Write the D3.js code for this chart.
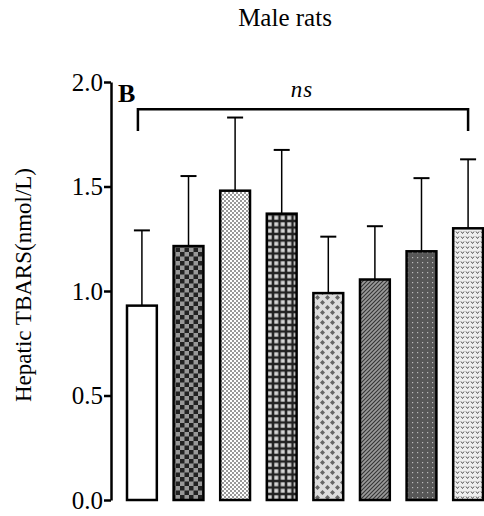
<!DOCTYPE html>
<html lang="en">
<head>
<meta charset="UTF-8">
<title>Male rats</title>
<script src="https://cdn.jsdelivr.net/npm/d3@7"></script>
<style>
    body { margin: 0; padding: 0; background: #fff; }
    svg { display: block; font-family: "Liberation Serif", "DejaVu Serif", serif; }
</style>
</head>
<body>
<div id="chart"></div>
<script>
    // data
    const groups = ["G1", "G2", "G3", "G4", "G5", "G6", "G7", "G8"];
    const means = [0.93, 1.215, 1.48, 1.37, 0.99, 1.055, 1.19, 1.30];
    const errors = [0.36, 0.335, 0.35, 0.305, 0.27, 0.255, 0.35, 0.33];
    const yTicks = [0.0, 0.5, 1.0, 1.5, 2.0];
    const patterns = ["none", "bigcheck", "finecheck", "grid", "diamond", "stripe", "dots", "hearts"];

    const w = 484, h = 516;
    const margin = { top: 82, left: 111, bottom: 16, right: 1 };

    const svg = d3.select("#chart").append("svg")
        .attr("width", w).attr("height", h);

    const defs = svg.append("defs");

    // fill patterns
    function pat(id, size) {
        return defs.append("pattern").attr("id", id)
            .attr("patternUnits", "userSpaceOnUse")
            .attr("width", size).attr("height", size);
    }
    let p = pat("bigcheck", 9);
    p.append("rect").attr("width", 9).attr("height", 9).attr("fill", "#999");
    p.append("rect").attr("width", 4.5).attr("height", 4.5).attr("fill", "#222");
    p.append("rect").attr("x", 4.5).attr("y", 4.5).attr("width", 4.5).attr("height", 4.5).attr("fill", "#222");

    p = pat("finecheck", 4);
    p.append("rect").attr("width", 4).attr("height", 4).attr("fill", "#fff");
    p.append("rect").attr("width", 2).attr("height", 2).attr("fill", "#999");
    p.append("rect").attr("x", 2).attr("y", 2).attr("width", 2).attr("height", 2).attr("fill", "#999");

    p = pat("grid", 6.5);
    p.append("rect").attr("width", 6.5).attr("height", 6.5).attr("fill", "#222");
    p.append("rect").attr("x", 1.25).attr("y", 1.25).attr("width", 4).attr("height", 4).attr("fill", "#d4d4d4");

    p = pat("diamond", 10);
    p.append("rect").attr("width", 10).attr("height", 10).attr("fill", "#ddd");
    p.append("path").attr("d", "M2.5,0 L5,2.5 L2.5,5 L0,2.5Z M7.5,5 L10,7.5 L7.5,10 L5,7.5Z").attr("fill", "#666");

    p = pat("stripe", 4);
    p.append("rect").attr("width", 4).attr("height", 4).attr("fill", "#9a9a9a");
    p.append("path").attr("d", "M-1,5 L5,-1 M-1,1 L1,-1 M3,5 L5,3").attr("stroke", "#333").attr("stroke-width", 1.1);

    p = pat("dots", 5);
    p.append("rect").attr("width", 5).attr("height", 5).attr("fill", "#575757");
    p.append("rect").attr("x", 2).attr("y", 2).attr("width", 1.2).attr("height", 1.2).attr("fill", "#bbb");

    p = pat("hearts", 5);
    p.append("rect").attr("width", 5).attr("height", 5).attr("fill", "#eee");
    p.append("path").attr("d", "M1,1.5 L2.5,3.5 L4,1.5").attr("stroke", "#555").attr("stroke-width", 1).attr("fill", "none");

    const x = d3.scaleBand()
        .domain(groups)
        .range([margin.left + 16, w - margin.right])
        .paddingInner(0.36)
        .paddingOuter(0);

    const y = d3.scaleLinear()
        .domain([0, 2])
        .range([h - margin.bottom, margin.top]);

    // title
    svg.append("text")
        .attr("x", 285).attr("y", 26)
        .attr("text-anchor", "middle")
        .style("font-size", "25px")
        .text("Male rats");

    // y axis
    const yAxis = svg.append("g")
        .attr("transform", `translate(${margin.left}, 0)`)
        .call(d3.axisLeft(y).tickValues(yTicks).tickFormat(d3.format(".1f")).tickSize(7).tickSizeOuter(0));
    yAxis.attr("font-family", null);
    yAxis.select(".domain").attr("stroke", "#000").attr("stroke-width", 2.5);
    yAxis.selectAll(".tick line").attr("stroke", "#000").attr("stroke-width", 2.5);
    yAxis.selectAll(".tick text")
        .attr("x", -8)
        .style("font-family", "'Liberation Serif', serif")
        .style("font-size", "25px")
        .attr("fill", "#000");

    svg.append("text")
        .attr("transform", `translate(31, ${y(1) - 6}) rotate(-90)`)
        .attr("text-anchor", "middle")
        .style("font-size", "23px")
        .text("Hepatic TBARS(nmol/L)");

    // panel letter
    svg.append("text")
        .attr("x", 118).attr("y", 102)
        .style("font-size", "26px")
        .style("font-weight", "bold")
        .text("B");

    // error bars (upper only)
    const err = svg.append("g").attr("stroke", "#000").attr("stroke-width", 1.5);
    err.selectAll("line.v")
        .data(groups)
        .enter().append("line")
        .attr("class", "v")
        .attr("x1", d => x(d) + x.bandwidth() / 2)
        .attr("x2", d => x(d) + x.bandwidth() / 2)
        .attr("y1", (d, i) => y(means[i]))
        .attr("y2", (d, i) => y(means[i] + errors[i]));
    err.selectAll("line.cap")
        .data(groups)
        .enter().append("line")
        .attr("class", "cap")
        .attr("stroke-width", 2)
        .attr("x1", d => x(d) + x.bandwidth() / 2 - 8)
        .attr("x2", d => x(d) + x.bandwidth() / 2 + 8)
        .attr("y1", (d, i) => y(means[i] + errors[i]))
        .attr("y2", (d, i) => y(means[i] + errors[i]));

    // bars
    svg.append("g").selectAll("rect")
        .data(groups)
        .enter().append("rect")
        .attr("x", d => x(d))
        .attr("y", (d, i) => y(means[i]))
        .attr("width", x.bandwidth())
        .attr("height", (d, i) => y(0) - y(means[i]))
        .attr("fill", (d, i) => patterns[i] === "none" ? "#fff" : `url(#${patterns[i]})`)
        .attr("stroke", "#000")
        .attr("stroke-width", 2.5);

    // significance bracket
    const bx1 = x(groups[0]) + x.bandwidth() / 2 - 4;
    const bx2 = x(groups[groups.length - 1]) + x.bandwidth() / 2;
    const by = y(1.87), byDrop = y(1.765);
    svg.append("path")
        .attr("d", `M${bx1},${byDrop} V${by} H${bx2} V${byDrop}`)
        .attr("fill", "none")
        .attr("stroke", "#000")
        .attr("stroke-width", 2.5);
    svg.append("text")
        .attr("x", 302).attr("y", by - 12)
        .attr("text-anchor", "middle")
        .style("font-size", "23px")
        .style("font-style", "italic")
        .style("letter-spacing", "1px")
        .text("ns");
</script>
</body>
</html>
